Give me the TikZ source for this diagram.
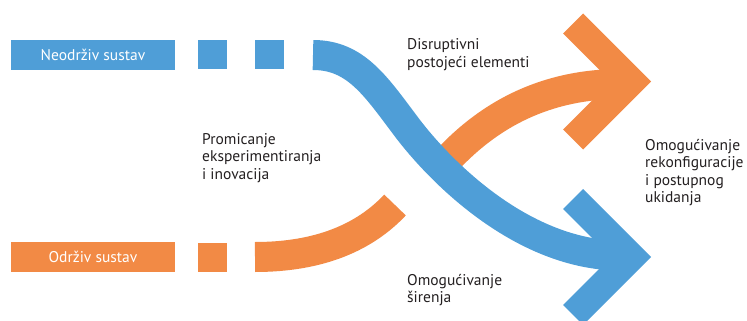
\documentclass[tikz,border=0pt]{standalone}
\usepackage{fontspec}
\setmainfont{PT Sans}
\definecolor{myblue}{HTML}{4F9ED7}
\definecolor{myorange}{HTML}{F28A45}
\definecolor{txt}{HTML}{231F20}
\begin{document}
\begin{tikzpicture}[x=1pt,y=-1pt,
  blueband/.style={draw=myblue,line width=30pt},
  orangeband/.style={draw=myorange,line width=30pt},
  bar/.style={inner sep=0,minimum width=164pt,minimum height=30pt,text=white,font=\fontsize{15.5}{17.5}\selectfont},
  sq/.style={inner sep=0,minimum size=29pt},
  lbl/.style={text=txt,font=\fontsize{15.5}{17.6}\selectfont,align=left,anchor=base west,inner sep=0}]
\useasboundingbox (0,0) rectangle (747,321);
% orange parts
\node[bar,fill=myorange] (ods) at (93,257) {Održiv sustav};
\node[sq,fill=myorange] (os1) at (212.5,257.5) {};
\coordinate (os) at (255,257);
\coordinate (oe) at (395,205);
\draw[orangeband] (os) .. controls (320,257) and (365,237) .. (oe);
\coordinate (os2) at (440,168);
\coordinate (oe2) at (615,84);
\draw[orangeband] (os2) .. controls (480,122) and (535,86) .. (oe2);
\fill[myorange] (583,13.5) -- (651,81.5) -- (583,149.5) -- (563,129.5) -- (611,81.5) -- (563,33.5) -- cycle;
% blue parts
\node[bar,fill=myblue] (nds) at (93,55) {Neodrživ sustav};
\node[sq,fill=myblue] (bs1) at (212.5,54.5) {};
\node[sq,fill=myblue] (bs2) at (269.5,54.5) {};
\coordinate (bs) at (313,55);
\coordinate (bm) at (405,125);
\coordinate (be) at (615,255.5);
\draw[blueband] (bs) .. controls (355,55) and (375,85) .. (bm) .. controls (440,172) and (520,252) .. (be);
\fill[myblue] (583,189) -- (651,257) -- (583,325) -- (563,305) -- (611,257) -- (563,209) -- cycle;
% labels (anchored at the baseline of the last line)
\node[lbl] (l1) at (407,67.6) {Disruptivni\\postojeći elementi};
\node[lbl] (l2) at (202,179.5) {Promicanje\\eksperimentiranja\\i inovacija};
\node[lbl] (l3) at (645,202.8) {Omogućivanje\\rekonfiguracije\\i postupnog\\ukidanja};
\node[lbl] (l4) at (407,302.6) {Omogućivanje\\širenja};
\end{tikzpicture}
\end{document}
